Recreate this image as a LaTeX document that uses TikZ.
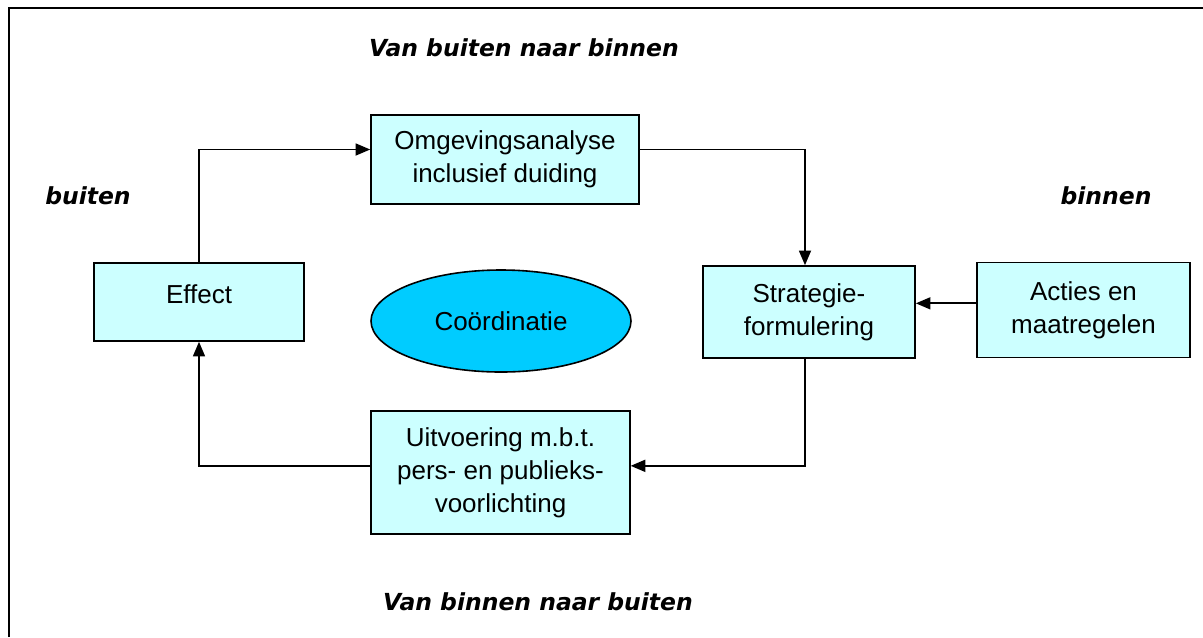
\documentclass[tikz,border=0pt]{standalone}
\usepackage{fontspec}
\setmainfont{Liberation Sans}
\newfontfamily\headfont{DejaVu Sans}
\usetikzlibrary{arrows.meta,shapes.geometric}

\tikzset{
  stapbox/.style={draw, line width=1.2pt, fill={rgb, 255:red, 204; green, 255; blue, 255 }, align=center, inner sep=0.75pt, font=\fontsize{19.5}{24.75}\selectfont},
  kop/.style={inner sep=0.75pt, font=\headfont\bfseries\itshape\fontsize{17.6}{20}\selectfont},
  pijl/.style={line width=1.3pt, -{Triangle[length=11pt,width=9pt]}}
}

\begin{document}
\begin{tikzpicture}[x=0.75pt,y=0.75pt,yscale=-1,xscale=1]
        \path[use as bounding box] (0,0) rectangle (1203,637);

        %Straight Lines [id:frame] 
        \draw [line width=1.2pt] (9,637) -- (9,8) -- (1203,8) ;

        %Shape: Rectangle [id:omgeving] 
        \node [stapbox, minimum width=201pt, minimum height=66.75pt] (omgeving) at (505,159.5) {Omgevingsanalyse\\inclusief duiding};
        %Shape: Rectangle [id:strategie] 
        \node [stapbox, minimum width=159pt, minimum height=69pt] (strategie) at (809,312) {Strategie-\\formulering};
        %Shape: Rectangle [id:acties] 
        \node [stapbox, minimum width=160pt, minimum height=71pt] (acties) at (1083.5,310) {Acties en\\maatregelen};
        %Shape: Rectangle [id:effect] 
        \node [stapbox, minimum width=157.5pt, minimum height=58.5pt] (effect) at (199,302) {\raisebox{12pt}{Effect}};
        %Shape: Rectangle [id:uitvoering] 
        \node [stapbox, minimum width=194pt, minimum height=92pt] (uitvoering) at (500.5,472.5) {Uitvoering m.b.t.\\pers- en publieks-\\voorlichting};
        %Shape: Ellipse [id:coordinatie] 
        \node [ellipse, draw, line width=1.2pt, fill={rgb, 255:red, 0; green, 204; blue, 255 }, minimum width=195pt, minimum height=76.5pt, font=\fontsize{19.5}{24.75}\selectfont] (coordinatie) at (501,321) {Coördinatie};

        %Straight Lines [id:effect-omgeving] 
        \draw [pijl] (effect.north) |- ([yshift=-7.5pt]omgeving.west) ;
        %Straight Lines [id:omgeving-strategie] 
        \draw [pijl] ([yshift=-7.5pt]omgeving.east) -| ([xshift=-3pt]strategie.north) ;
        %Straight Lines [id:acties-strategie] 
        \draw [pijl] ([yshift=-5pt]acties.west) -- ([yshift=-5pt]acties.west -| strategie.east) ;
        %Straight Lines [id:strategie-uitvoering] 
        \draw [pijl] ([xshift=-3pt]strategie.south) |- ([yshift=-5pt]uitvoering.east) ;
        %Straight Lines [id:uitvoering-effect] 
        \draw [pijl] ([yshift=-5pt]uitvoering.west) -| (effect.south) ;

        % Text Node
        \node [kop] (vbnb) at (524,48) {Van buiten naar binnen};
        % Text Node
        \node [kop] (buiten) at (88,196) {buiten};
        % Text Node
        \node [kop] (binnen) at (1106,196) {binnen};
        % Text Node
        \node [kop] (vbnbu) at (538,602) {Van binnen naar buiten};

\end{tikzpicture}
\end{document}
